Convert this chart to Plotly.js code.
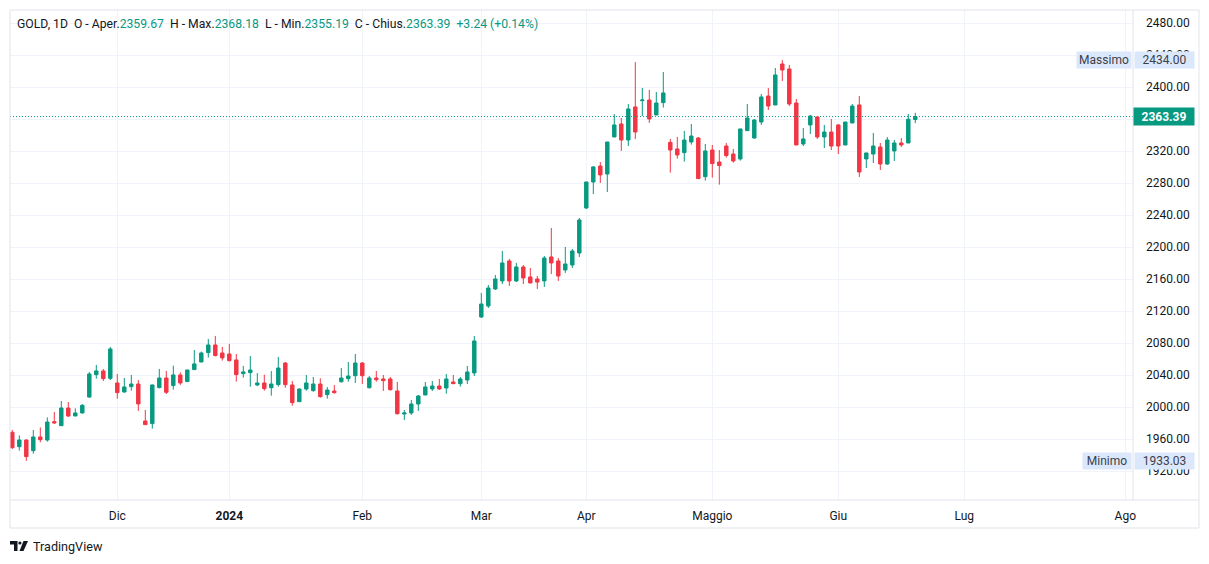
<!DOCTYPE html>
<html><head><meta charset="utf-8">
<script src="https://cdn.plot.ly/plotly-3.0.1.min.js"></script>
<style>html,body{margin:0;padding:0;background:#fff;} #chart{width:1209px;height:564px;}</style>
</head><body><div id="chart"></div>
<script>
// ---- data (daily candles, GOLD 1D) ----
const opens = [1968.7,1950.8,1959.1,1945.8,1962.9,1959.1,1982.0,1977.0,1999.1,1989.1,
1992.9,2012.8,2040.8,2045.4,2036.2,2030.4,2019.1,2025.8,2029.1,1982.9,
1979.6,2024.6,2036.6,2027.1,2040.4,2032.1,2047.1,2056.6,2068.3,2077.9,
2067.9,2066.6,2059.2,2042.1,2043.3,2027.9,2030.4,2024.5,2028.3,2055.3,
2027.9,2007.0,2022.8,2020.8,2029.1,2015.8,2020.3,2032.0,2035.8,2039.5,
2055.3,2024.5,2036.6,2035.4,2035.4,2020.4,1991.6,1992.9,2004.1,2015.4,
2022.9,2026.6,2024.1,2031.6,2029.5,2034.1,2042.9,2112.9,2126.6,2147.9,
2157.9,2182.9,2157.9,2175.4,2162.9,2160.4,2157.9,2187.9,2182.9,2171.6,
2177.9,2192.9,2249.1,2281.6,2301.6,2291.6,2337.9,2354.1,2334.1,2375.4,
2383.3,2384.1,2365.4,2380.8,2331.2,2322.9,2318.3,2331.6,2336.6,2288.3,
2321.6,2306.6,2326.6,2316.6,2310.4,2345.8,2336.6,2356.6,2389.1,2377.9,
2429.1,2422.9,2380.4,2329.1,2352.9,2362.9,2337.9,2344.1,2352.9,2327.9,
2355.4,2377.9,2310.4,2316.6,2325.4,2304.1,2320.4,2330.4,2330.4,2359.67];
const highs = [1971.6,1964.9,1959.9,1971.6,1974.9,1987.4,1994.1,2007.9,2006.6,1998.7,
2004.1,2044.1,2052.9,2047.9,2075.4,2041.6,2036.6,2040.4,2034.1,1996.6,
2028.3,2047.9,2045.4,2052.1,2043.7,2046.9,2071.6,2069.6,2085.4,2089.2,
2075.4,2079.2,2066.6,2051.7,2064.1,2042.8,2040.8,2045.3,2062.9,2056.6,
2032.9,2023.7,2040.3,2037.8,2036.2,2025.3,2027.8,2049.1,2056.6,2066.6,
2056.6,2039.1,2045.4,2040.4,2037.9,2031.6,1996.6,2009.1,2015.4,2031.6,
2032.9,2035.4,2041.6,2040.4,2037.9,2051.6,2089.1,2142.9,2152.9,2165.4,
2195.4,2185.4,2180.4,2177.9,2174.1,2164.1,2189.1,2224.1,2186.6,2200.4,
2197.9,2236.6,2281.8,2301.6,2306.6,2331.8,2366.6,2361.6,2379.1,2431.5,
2399.1,2396.6,2394.1,2419.1,2335.4,2337.9,2345.4,2354.1,2337.9,2329.1,
2327.9,2321.6,2330.4,2322.9,2348.1,2379.1,2360.4,2391.6,2399.1,2424.1,
2434.0,2427.9,2385.4,2349.1,2365.4,2363.1,2352.9,2360.4,2354.1,2356.8,
2379.1,2389.1,2318.1,2342.9,2330.4,2337.9,2334.1,2336.6,2366.6,2368.18];
const lows = [1947.9,1945.8,1933.03,1942.0,1956.2,1957.0,1979.5,1977.0,1987.9,1989.1,
1992.4,2012.0,2035.8,2032.9,2034.1,2010.8,2018.3,2020.8,1995.4,1977.9,
1973.3,2023.7,2016.6,2022.1,2027.9,2031.8,2046.8,2056.3,2062.1,2063.7,
2058.3,2057.1,2032.1,2037.1,2025.8,2026.6,2020.8,2014.5,2025.8,2024.5,
2002.0,2006.8,2020.8,2019.5,2012.0,2010.8,2017.0,2030.8,2032.0,2030.4,
2029.1,2023.3,2032.0,2020.4,2020.8,1990.8,1984.1,1990.4,1995.4,2015.2,
2020.4,2021.6,2017.0,2029.1,2025.8,2029.1,2039.1,2111.6,2124.1,2146.6,
2154.1,2151.6,2156.6,2154.1,2155.2,2147.9,2150.4,2166.6,2157.9,2167.9,
2174.1,2187.9,2247.9,2266.6,2280.4,2269.1,2337.7,2320.4,2326.6,2335.3,
2364.1,2355.4,2365.2,2374.6,2293.3,2310.8,2307.1,2328.3,2285.6,2283.3,
2287.1,2278.3,2312.1,2305.8,2308.3,2345.6,2335.8,2352.9,2371.6,2377.7,
2407.9,2376.6,2327.7,2326.6,2341.6,2335.4,2324.1,2321.6,2316.6,2327.7,
2355.2,2287.9,2299.1,2305.4,2296.6,2302.9,2307.9,2325.4,2330.2,2355.19];
const closes = [1949.5,1959.1,1938.3,1962.9,1959.5,1981.6,1980.4,1999.1,1989.1,1992.9,
2002.4,2041.6,2045.4,2035.8,2072.9,2018.3,2025.4,2029.1,2004.2,1978.3,
2027.9,2036.6,2018.7,2040.4,2030.4,2046.6,2054.2,2067.9,2077.9,2064.6,
2061.7,2058.3,2040.8,2044.2,2046.6,2030.4,2023.3,2029.1,2049.1,2028.3,
2005.8,2022.8,2030.4,2029.1,2013.3,2021.6,2018.3,2036.6,2039.1,2055.3,
2039.5,2036.6,2034.5,2033.3,2022.0,1992.0,1992.9,2004.1,2014.1,2025.4,
2026.6,2022.9,2035.4,2029.5,2035.4,2044.1,2082.9,2129.1,2149.1,2160.4,
2180.4,2157.9,2175.4,2161.6,2155.4,2156.6,2186.6,2180.4,2164.1,2179.1,
2195.4,2234.1,2281.6,2300.4,2290.4,2331.6,2352.9,2334.1,2372.9,2344.1,
2384.1,2360.4,2380.4,2392.9,2321.6,2315.4,2334.1,2339.1,2285.8,2320.4,
2304.6,2302.1,2314.6,2307.9,2347.9,2361.6,2359.1,2387.9,2376.6,2415.4,
2421.6,2379.1,2327.9,2335.4,2364.1,2337.9,2344.1,2326.6,2326.6,2356.6,
2376.6,2294.1,2317.9,2326.6,2304.1,2334.1,2330.4,2327.9,2360.15,2363.39];

const monthLabels = ['Dic','<b>2024</b>','Feb','Mar','Apr','Maggio','Giu','Lug','Ago'];
const monthTickIdx = [15,31,50,67,82,100,118,136,159];
const priceTicks = [1920,1960,2000,2040,2080,2120,2160,2200,2240,2280,2320,2360,2400,2440,2480];
const symbol = 'GOLD', interval = '1D';
const last = {o:2359.67, h:2368.18, l:2355.19, c:2363.39, chg:3.24, pct:0.14};
const sessionHigh = 2434.00, sessionLow = 1933.03;

// ---- layout helpers ----
const GREEN = '#089981', RED = '#F23645', TXT = '#131722', GRID = '#f0f3fa', BORDER = '#e0e3eb';
const PL = 10, PR = 1133, PT = 10, PB = 500;
const px = x => (x - PL) / (PR - PL);
const py = y => (PB - y) / (PB - PT);
const FONT = 'Roboto, "Liberation Sans", Arial, sans-serif';

const idx = closes.map((_, i) => i);

const trace = {
  type: 'candlestick', x: idx, open: opens, high: highs, low: lows, close: closes,
  increasing: {line: {color: GREEN, width: 1}, fillcolor: GREEN},
  decreasing: {line: {color: RED, width: 1}, fillcolor: RED},
  whiskerwidth: 0, hoverinfo: 'skip'
};

const g = s => '<span style="color:' + GREEN + '">' + s + '</span>';
const sp = '\u00a0';
const header = symbol + ',' + sp + interval + sp + sp + 'O' + sp + '-' + sp + 'Aper.' + g(last.o.toFixed(2)) + sp + sp +
  'H' + sp + '-' + sp + 'Max.' + g(last.h.toFixed(2)) + sp + sp +
  'L' + sp + '-' + sp + 'Min.' + g(last.l.toFixed(2)) + sp + sp +
  'C' + sp + '-' + sp + 'Chius.' + g(last.c.toFixed(2)) + sp + sp +
  g('+' + last.chg.toFixed(2) + sp + '(+' + last.pct.toFixed(2) + '%)');

const LBL = '#dbe8fb';
const annotations = [
  {text: header, xref: 'paper', yref: 'paper', x: px(15), y: py(24), xanchor: 'left', yanchor: 'middle',
   showarrow: false, font: {family: FONT, size: 12.2, color: TXT}},
  {text: 'Massimo', xref: 'paper', yref: 'y', x: px(1132), y: sessionHigh, xanchor: 'right', yanchor: 'middle',
   showarrow: false, bgcolor: LBL, width: 54, height: 16, borderpad: 0, font: {family: FONT, size: 12, color: '#3b3f4a'}},
  {text: sessionHigh.toFixed(2), xref: 'paper', yref: 'y', x: px(1134), y: sessionHigh, xanchor: 'left', yanchor: 'middle',
   showarrow: false, bgcolor: LBL, width: 59, height: 16, borderpad: 0, font: {family: FONT, size: 12, color: '#3b3f4a'}},
  {text: 'Minimo', xref: 'paper', yref: 'y', x: px(1132), y: sessionLow, xanchor: 'right', yanchor: 'middle',
   showarrow: false, bgcolor: LBL, width: 48, height: 16, borderpad: 0, font: {family: FONT, size: 12, color: '#3b3f4a'}},
  {text: sessionLow.toFixed(2), xref: 'paper', yref: 'y', x: px(1134), y: sessionLow, xanchor: 'left', yanchor: 'middle',
   showarrow: false, bgcolor: LBL, width: 59, height: 16, borderpad: 0, font: {family: FONT, size: 12, color: '#3b3f4a'}},
  {text: '<b>' + last.c.toFixed(2) + '</b>', xref: 'paper', yref: 'y', x: px(1133), y: last.c, xanchor: 'left', yanchor: 'middle',
   showarrow: false, bgcolor: GREEN, width: 60, height: 17, borderpad: 0, font: {family: FONT, size: 12, color: '#ffffff'}},
  {text: 'TradingView', xref: 'paper', yref: 'paper', x: px(31), y: py(546), xanchor: 'left', yanchor: 'middle',
   showarrow: false, font: {family: FONT, size: 12.6, color: TXT}}
];

const line = (x0, y0, x1, y1, color) => ({type: 'line', xref: 'paper', yref: 'paper', x0: px(x0), y0: py(y0), x1: px(x1), y1: py(y1),
  line: {color: color, width: 1}, layer: 'above'});
const poly = pts => 'M' + pts.map(p => px(p[0]) + ',' + py(p[1])).join('L') + 'Z';

const shapes = [
  {type: 'line', xref: 'paper', yref: 'y', x0: 0, x1: 1, y0: last.c, y1: last.c, line: {color: GREEN, width: 1, dash: '1px,2px'}, layer: 'above'},
  line(10, 10, 1199, 10, BORDER), line(10, 528, 1199, 528, BORDER),
  line(10, 10, 10, 528, BORDER), line(1199, 10, 1199, 528, BORDER),
  line(10, 500, 1199, 500, BORDER), line(1133, 10, 1133, 500, BORDER),
  // TradingView logo
  {type: 'path', xref: 'paper', yref: 'paper', path: poly([[10,541],[17.5,541],[17.5,551],[14,551],[14,544.5],[10,544.5]]), fillcolor: TXT, line: {width: 0}},
  {type: 'circle', xref: 'paper', yref: 'paper', x0: px(18.3), x1: px(21.5), y0: py(544.6), y1: py(541.4), fillcolor: TXT, line: {width: 0}},
  {type: 'path', xref: 'paper', yref: 'paper', path: poly([[23.5,541],[28,541],[23.5,551],[19.5,551]]), fillcolor: TXT, line: {width: 0}}
];

const layout = {
  width: 1209, height: 564, paper_bgcolor: '#ffffff', plot_bgcolor: '#ffffff',
  margin: {l: PL, r: 1209 - PR, t: PT, b: 564 - PB, pad: 0},
  showlegend: false, dragmode: false, hovermode: false,
  font: {family: FONT, size: 12, color: TXT},
  xaxis: {range: [-0.33, 160.1], tickmode: 'array', tickvals: monthTickIdx, ticktext: monthLabels,
    showgrid: true, gridcolor: GRID, gridwidth: 1, zeroline: false, showline: false, ticks: '',
    ticklabelstandoff: 7, rangeslider: {visible: false}, fixedrange: true,
    tickfont: {family: FONT, size: 12, color: TXT}},
  yaxis: {range: [1884.1, 2496.6], side: 'right', tickmode: 'array', tickvals: priceTicks,
    // the 2360 label sits under the last-price marker and is not drawn
    ticktext: priceTicks.map(v => Math.abs(v - last.c) < 12 ? '' : v.toFixed(2)),
    showgrid: true, gridcolor: GRID, gridwidth: 1, zeroline: false, showline: false, ticks: '',
    ticklabelstandoff: 12, fixedrange: true, tickfont: {family: FONT, size: 12, color: TXT}},
  annotations: annotations, shapes: shapes
};

Plotly.newPlot('chart', [trace], layout, {displayModeBar: false, staticPlot: true});
</script>
</body></html>
